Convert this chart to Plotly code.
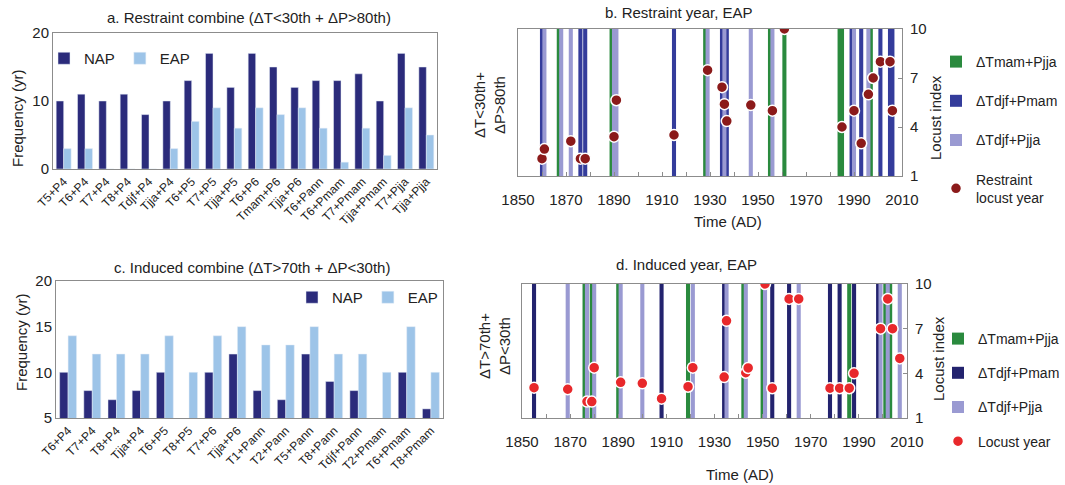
import plotly.graph_objects as go

W, H = 1065, 485
FONT = "Liberation Sans, Arial, sans-serif"

# ---------------- data ----------------
# a. Restraint combine
cats_a = ["T5+P4", "T6+P4", "T7+P4", "T8+P4", "Tdjf+P4", "Tjja+P4", "T6+P5", "T7+P5",
          "Tjja+P5", "T6+P6", "Tmam+P6", "Tjja+P6", "T6+Pann", "T6+Pmam", "T7+Pmam",
          "Tjja+Pmam", "T7+Pjja", "Tjja+Pjja"]
nap_a = [10, 11, 10, 11, 8, 10, 13, 17, 12, 17, 15, 12, 13, 13, 14, 10, 17, 15]
eap_a = [3, 3, 0, 0, 0, 3, 7, 9, 6, 9, 8, 9, 6, 1, 6, 2, 9, 5]

# c. Induced combine
cats_c = ["T6+P4", "T7+P4", "T8+P4", "Tjja+P4", "T6+P5", "T8+P5", "T7+P6", "Tjja+P6",
          "T1+Pann", "T2+Pann", "T5+Pann", "T8+Pann", "Tdjf+Pann", "T2+Pmam", "T6+Pmam",
          "T8+Pmam"]
nap_c = [10, 8, 7, 8, 10, None, 10, 12, 8, 7, 12, 9, 8, None, 10, 6]
eap_c = [14, 12, 12, 12, 14, 10, 14, 15, 13, 13, 15, 12, 12, 10, 15, 10]

# b. Restraint year, EAP (years of each combination)
b_tmam_pjja = [1867, 1889, 1928, 1955, 1961, 1984, 1985, 1997]
b_tdjf_pmam = [1860, 1876, 1878, 1915, 1935, 1937, 1989, 1993, 2001, 2005, 2006]
b_tdjf_pjja = [1861, 1868, 1872, 1890, 1891, 1929, 1936, 1947, 1956, 1990, 1996]
b_locust_year = [1860, 1861, 1872, 1876, 1878, 1890, 1891, 1915, 1929, 1935, 1936, 1937,
                 1947, 1956, 1961, 1985, 1990, 1993, 1996, 1998, 2001, 2005, 2006]
b_locust_index = [2.06, 2.65, 3.13, 2.06, 2.06, 3.41, 5.64, 3.51, 7.48, 6.44, 5.4, 4.36,
                  5.34, 5, 10, 4, 5, 3, 6, 7, 8, 8, 5]

# d. Induced year, EAP
d_tmam_pjja = [1876, 1879, 1890, 1919, 1942, 1950, 1986, 2001, 2003]
d_tdjf_pmam = [1855, 1908, 1934, 1954, 1961, 1978, 1982, 1988, 1998]
d_tdjf_pjja = [1869, 1877, 1880, 1891, 1900, 1921, 1935, 1943, 1951, 1965, 1999, 2002, 2007]
d_locust_year = [1855, 1869, 1877, 1879, 1880, 1891, 1900, 1908, 1919, 1921, 1934, 1935,
                 1943, 1944, 1951, 1954, 1961, 1965, 1978, 1982, 1986, 1988, 1999, 2002,
                 2004, 2007]
d_locust_index = [3.04, 2.93, 2.1, 2.1, 4.38, 3.4, 3.33, 2.3, 3.1, 4.38, 3.75, 7.53,
                  4.04, 4.36, 10, 3, 9, 9, 3, 3, 3, 4, 7, 9, 7, 5]

INDEX_MAX = 10  # combination-year bars span the whole locust index range

# ---------------- styles ----------------
NAP_C = "#2B2B7B"
EAP_C = "#9DC4E8"
GREEN = "#2A8A3E"
DARK_B = "#343C9B"
DARK_D = "#23236E"
LIGHT = "#9A9AD2"
GRAY = "#8C8C8C"
DOT_B = "#8B1A1A"
DOT_D = "#E8282B"
TXT = "#222222"


def xd(l, r):
    return [l / W, r / W]


def yd(t, b):
    return [1 - b / H, 1 - t / H]


fig = go.Figure()

# panel a
fig.add_trace(go.Bar(x=cats_a, y=nap_a, name="NAP", marker_color=NAP_C,
                     xaxis="x", yaxis="y", legend="legend"))
fig.add_trace(go.Bar(x=cats_a, y=eap_a, name="EAP", marker_color=EAP_C,
                     xaxis="x", yaxis="y", legend="legend"))
# panel c
fig.add_trace(go.Bar(x=cats_c, y=nap_c, name="NAP", marker_color=NAP_C,
                     xaxis="x3", yaxis="y3", legend="legend3"))
fig.add_trace(go.Bar(x=cats_c, y=eap_c, name="EAP", marker_color=EAP_C,
                     xaxis="x3", yaxis="y3", legend="legend3"))


def year_bars(years, name, color, xa, ya, leg, grp):
    return go.Bar(x=years, y=[INDEX_MAX] * len(years), name=name, marker_color=color,
                  marker_line_width=0, width=1.7, offset=-0.85,
                  xaxis=xa, yaxis=ya, legend=leg, legendgroup=grp)


# panel b
fig.add_trace(year_bars(b_tmam_pjja, "ΔTmam+Pjja", GREEN, "x2", "y2", "legend2", "b1"))
fig.add_trace(year_bars(b_tdjf_pmam, "ΔTdjf+Pmam", DARK_B, "x2", "y2", "legend2", "b2"))
fig.add_trace(year_bars(b_tdjf_pjja, "ΔTdjf+Pjja", LIGHT, "x2", "y2", "legend2", "b3"))
fig.add_trace(go.Scatter(x=b_locust_year, y=b_locust_index, mode="markers",
                         name="Restraint<br>locust year",
                         marker=dict(color=DOT_B, size=11, line=dict(color="white", width=1.5)),
                         xaxis="x2", yaxis="y2", legend="legend2", legendgroup="b4"))
# panel d
fig.add_trace(year_bars(d_tmam_pjja, "ΔTmam+Pjja", GREEN, "x4", "y4", "legend4", "d1"))
fig.add_trace(year_bars(d_tdjf_pmam, "ΔTdjf+Pmam", DARK_D, "x4", "y4", "legend4", "d2"))
fig.add_trace(year_bars(d_tdjf_pjja, "ΔTdjf+Pjja", LIGHT, "x4", "y4", "legend4", "d3"))
fig.add_trace(go.Scatter(x=d_locust_year, y=d_locust_index, mode="markers",
                         name="Locust year",
                         marker=dict(color=DOT_D, size=11, line=dict(color="white", width=1.5)),
                         xaxis="x4", yaxis="y4", legend="legend4", legendgroup="d4"))

box = dict(showline=True, mirror=True, linecolor=GRAY, linewidth=1, showgrid=False,
           zeroline=False, automargin=False)

cat_x = dict(type="category", tickangle=-45, tickfont=dict(size=12, color=TXT),
             ticks="", **box)
freq_y = dict(tickfont=dict(size=15, color=TXT), ticks="", **box)
time_x = dict(range=[1850, 2010], tick0=1850, dtick=20, ticks="inside", ticklen=4,
              tickcolor=GRAY, minor=dict(dtick=10, tick0=1850, ticks="inside", ticklen=4,
                                         tickcolor=GRAY),
              tickfont=dict(size=15, color=TXT), ticklabelstandoff=10, **box)
idx_y = dict(range=[1, 10], tickvals=[1, 4, 7, 10], side="right", ticks="inside",
             ticklen=4, tickcolor=GRAY, tickfont=dict(size=15, color=TXT),
             ticklabelstandoff=4, **box)


def leg(x, y, **kw):
    d = dict(x=x / W, y=1 - y / H, xref="container", yref="container",
             xanchor="left", yanchor="top", bgcolor="rgba(0,0,0,0)", borderwidth=0)
    d.update(kw)
    return d


fig.update_layout(
    width=W, height=H,
    margin=dict(l=0, r=0, t=0, b=0, autoexpand=False),
    paper_bgcolor="white", plot_bgcolor="white",
    font=dict(family=FONT, size=14, color=TXT),
    barmode="group", bargap=0.3, bargroupgap=0,
    xaxis=dict(domain=xd(53, 437), anchor="y", **cat_x),
    yaxis=dict(domain=yd(33, 169), anchor="x", range=[0, 20], tickvals=[0, 10, 20], **freq_y),
    xaxis3=dict(domain=xd(56, 443), anchor="y3", **cat_x),
    yaxis3=dict(domain=yd(281, 418), anchor="x3", range=[5, 20], tickvals=[5, 10, 15, 20],
                **freq_y),
    xaxis2=dict(domain=xd(518, 902), anchor="y2", **time_x),
    yaxis2=dict(domain=yd(29, 176), anchor="x2", **idx_y),
    xaxis4=dict(domain=xd(522, 907), anchor="y4", **time_x),
    yaxis4=dict(domain=yd(284, 418), anchor="x4", **idx_y),
    legend=leg(44, 42, orientation="h", font=dict(size=15)),
    legend3=leg(292, 281, orientation="h", font=dict(size=15)),
    legend2=leg(936, 46, font=dict(size=14), tracegroupgap=18),
    legend4=leg(938, 323, font=dict(size=14), tracegroupgap=13),
    showlegend=True,
)


def ann(text, x, y, size=15, angle=0):
    fig.add_annotation(text=text, x=x / W, y=1 - y / H, xref="paper", yref="paper",
                       showarrow=False, textangle=angle, font=dict(size=size, color=TXT),
                       xanchor="center", yanchor="middle")


ann("a. Restraint combine (ΔT&lt;30th + ΔP&gt;80th)", 249, 18)
ann("c. Induced combine (ΔT&gt;70th + ΔP&lt;30th)", 252, 267)
ann("b. Restraint year, EAP", 679, 12)
ann("d. Induced year, EAP", 686, 264)
ann("Frequency (yr)", 17, 118, angle=-90)
ann("Frequency (yr)", 21, 342, angle=-90)
ann("Time (AD)", 728, 222)
ann("Time (AD)", 740, 474)
ann("Locust index", 935, 118, angle=-90)
ann("Locust index", 938, 359, angle=-90)
ann("ΔT&lt;30th+<br>ΔP&gt;80th", 489, 105, angle=-90)
ann("ΔT&gt;70th+<br>ΔP&lt;30th", 494, 346, angle=-90)

fig.write_html("out.html", config={"displayModeBar": False},
               post_script="document.body.style.margin='0';")
